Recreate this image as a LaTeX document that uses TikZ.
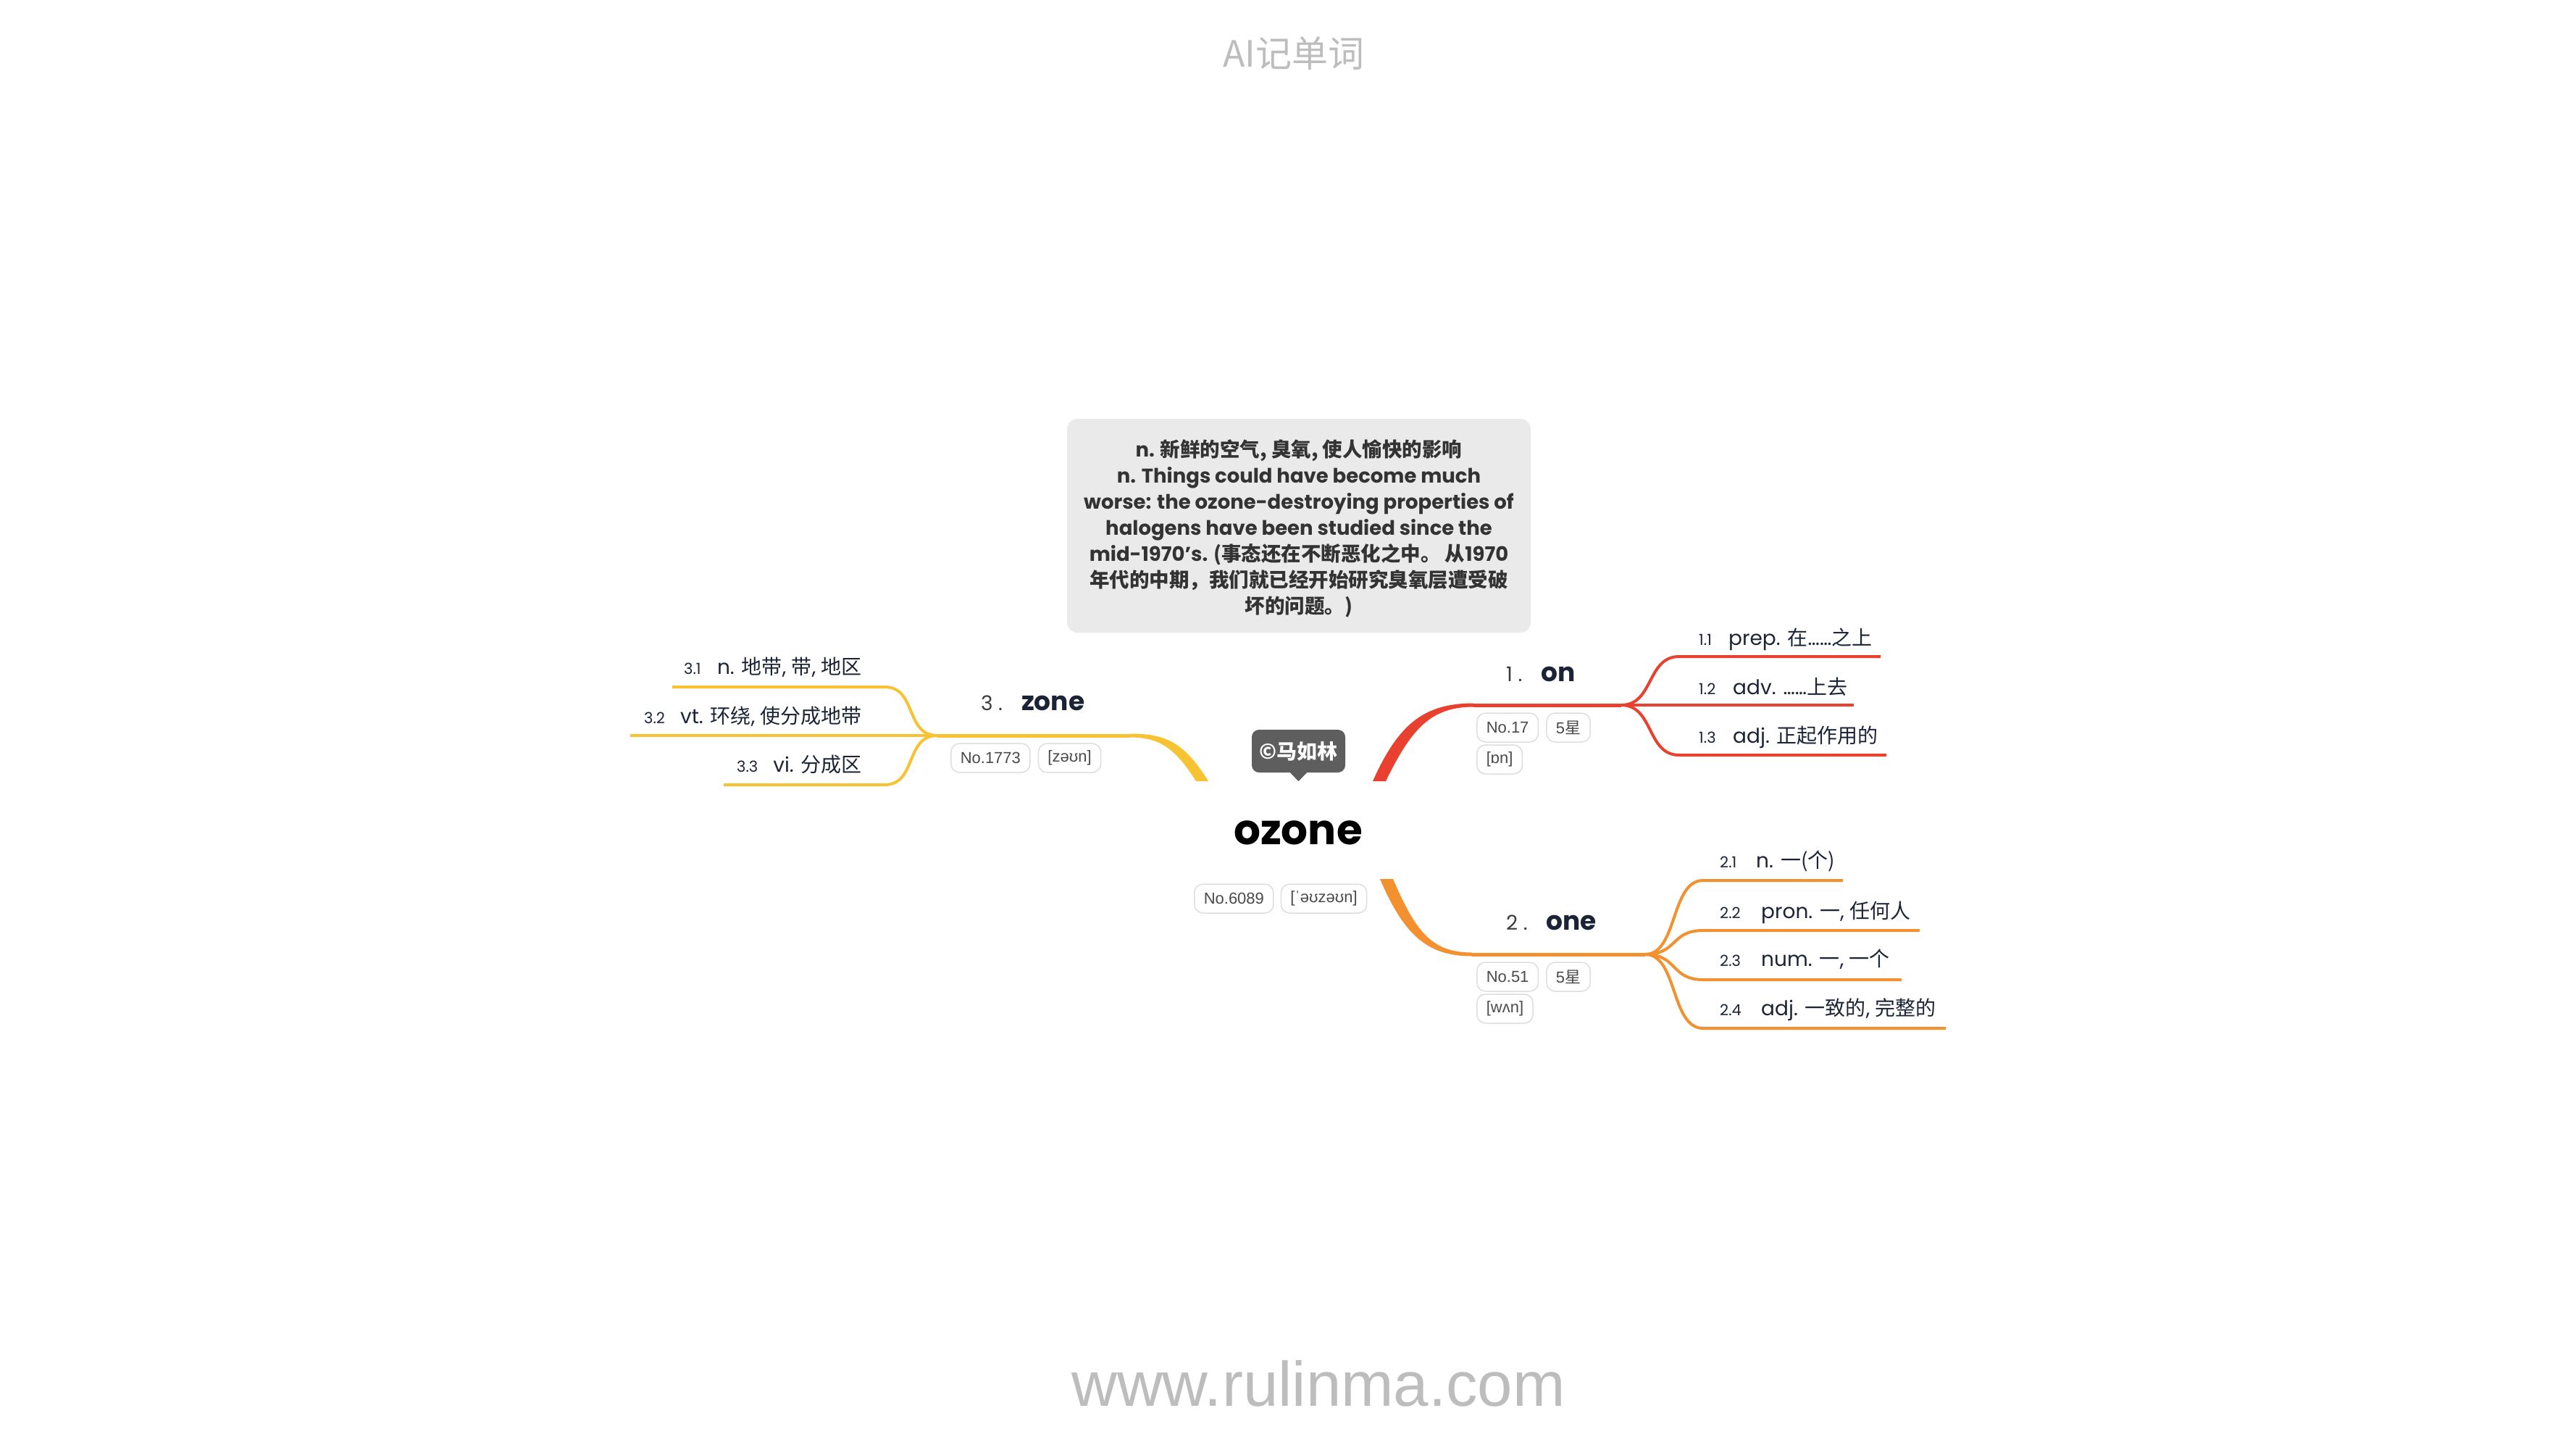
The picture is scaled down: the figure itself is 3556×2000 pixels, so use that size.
\documentclass[tikz,border=0pt]{standalone}
\usepackage{fontspec}
\usetikzlibrary{calc}
\setmainfont{Poppins}
\newfontfamily\pop{Poppins}
\newfontfamily\cjk{Noto Sans CJK SC}
\newfontfamily\arial{Liberation Sans}
\newcommand\zh[1]{{\cjk #1}}

\definecolor{redb}{HTML}{E9412F}
\definecolor{orangeb}{HTML}{F39131}
\definecolor{yellowb}{HTML}{F7C332}
\definecolor{ink}{HTML}{1B2436}
\definecolor{numgray}{HTML}{3C3C3C}
\definecolor{tagtext}{HTML}{4A4A4A}
\definecolor{tagline}{HTML}{DEDEDE}
\definecolor{defbg}{HTML}{EAEAEA}
\definecolor{deftext}{HTML}{333333}
\definecolor{tipbg}{HTML}{5E5E5E}
\definecolor{marktext}{HTML}{BDBDBD}

% numeral in front of a branch word
\newcommand\hnum[1]{{\pop\mdseries\fontsize{28}{30}\selectfont\color{numgray}#1}}

\begin{document}
\begin{tikzpicture}[x=1pt,y=-1pt,
  tag/.style={draw=tagline, line width=1.5pt, fill=white, rounded corners=12pt,
    minimum height=40pt, inner xsep=13pt, inner ysep=0pt, text=tagtext,
    font=\arial\fontsize{22}{22}\selectfont, anchor=west},
  sublabel/.style={font=\pop\fontsize{28}{30}\selectfont, text=ink, inner sep=0pt},
  subnum/.style={font=\pop\fontsize{21}{24}\selectfont, text=ink, inner sep=0pt, anchor=base west},
  heading/.style={font=\pop\bfseries\fontsize{36}{40}\selectfont, text=ink, inner sep=0pt, anchor=base west},
  subline/.style={line width=4pt},
  mainline/.style={line width=5pt},
  defbox/.style={fill=defbg, rounded corners=14pt, minimum width=640pt, minimum height=295pt,
    align=center, text=deftext, font=\pop\bfseries\fontsize{27.5}{36}\selectfont, inner sep=0pt},
  tipbox/.style={fill=tipbg, rounded corners=10pt, minimum width=129pt, minimum height=59pt,
    inner sep=0pt, text=white, font=\cjk\bfseries\fontsize{28}{28}\selectfont},
  watermark/.style={text=marktext, inner sep=0pt, anchor=base}
]
\fill[white] (0,0) rectangle (3556,2000);
\useasboundingbox (0,0) rectangle (3556,2000);

% header and footer
\node[watermark, font=\cjk\fontsize{50}{50}\selectfont] (title) at (1786,92) {AI记单词};
\node[watermark, font=\arial\fontsize{87}{87}\selectfont] (site) at (1820,1940) {www.rulinma.com};

% definition card
\node[defbox] (def) at (1793,725.5) {};
\node[align=center, text=deftext, font=\pop\bfseries\fontsize{27.5}{36}\selectfont, inner sep=0pt]
  (deftxt) at (1793,729) {%
  n. \zh{新鲜的空气, 臭氧, 使人愉快的影响}\\
  n. Things could have become much\\
  worse: the ozone-destroying properties of\\
  halogens have been studied since the\\
  mid-1970’s. \zh{(事态还在不断恶化之中。 从}1970\\
  \zh{年代的中期，我们就已经开始研究臭氧层遭受破}\\
  \zh{坏的问题。)}};

% central word
\node[tipbox] (sign) at (1792.5,1036.5) {©马如林};
\fill[tipbg] ($(sign.south)+(-12,-0.5)$) -- ($(sign.south)+(12,-0.5)$) -- ($(sign.south)+(0,12)$) -- cycle;
\node[font=\pop\bfseries\fontsize{58}{60}\selectfont, text=black, inner sep=0pt, anchor=base] (root) at (1792,1165) {ozone};
\node[tag] (rootno) at (1648,1240) {No.6089};
\node[tag] (rootipa) at ($(rootno.east)+(9,0)$) {[ˈəʊzəʊn]};

% ---------- branch 1: on ----------
\coordinate (r0) at (2034,973);
\coordinate (rf) at (2238,973);
\fill[redb] (1895,1078) .. controls (1930,1000) and (1965,970.5) .. (2034,970.5)
  -- (2034,975.5) .. controls (1975,975.5) and (1948,1006) .. (1913,1078) -- cycle;
\draw[redb, mainline] (r0) -- (rf);
\coordinate (r1s) at (2318,906);  \coordinate (r1e) at (2596,906);
\coordinate (r2e) at (2559,973);
\coordinate (r3s) at (2318,1042); \coordinate (r3e) at (2604,1042);
\draw[redb, subline] (rf) .. controls +(45,0) and +(-45,0) .. (r1s) -- (r1e);
\draw[redb, subline] (rf) -- (r2e);
\draw[redb, subline] (rf) .. controls +(45,0) and +(-45,0) .. (r3s) -- (r3e);

\node[heading] (h1) at (2079,940) {\hnum{1 .}\hspace{26pt}on};
\node[tag] (t1a) at (2038,1004) {No.17};
\node[tag] (t1b) at ($(t1a.east)+(10,0)$) {5\zh{星}};
\node[tag] (t1c) at (2038,1048) {[ɒn]};

\node[subnum] (n11) at (2345,890) {1.1};
\node[sublabel, anchor=base west] (s11) at (2386,890) {prep. \zh{在}……\zh{之上}};
\node[subnum] (n12) at (2345,958) {1.2};
\node[sublabel, anchor=base west] (s12) at (2392,958) {adv. ……\zh{上去}};
\node[subnum] (n13) at (2345,1025) {1.3};
\node[sublabel, anchor=base west] (s13) at (2392,1025) {adj. \zh{正起作用的}};

% ---------- branch 2: one ----------
\coordinate (o0) at (2032,1317);
\coordinate (of) at (2271,1317);
\fill[orangeb] (1905,1213) .. controls (1938,1290) and (1970,1319.5) .. (2032,1319.5)
  -- (2032,1314.5) .. controls (1978,1314.5) and (1955,1288) .. (1923,1213) -- cycle;
\draw[orangeb, mainline] (o0) -- (of);
\coordinate (o1s) at (2351,1215); \coordinate (o1e) at (2544,1215);
\coordinate (o2s) at (2351,1284); \coordinate (o2e) at (2650,1284);
\coordinate (o3s) at (2351,1352); \coordinate (o3e) at (2625,1352);
\coordinate (o4s) at (2351,1419); \coordinate (o4e) at (2686,1419);
\foreach \k in {1,2,3,4}
  \draw[orangeb, subline] (of) .. controls +(45,0) and +(-45,0) .. (o\k s) -- (o\k e);

\node[heading] (h2) at (2079,1283) {\hnum{2 .}\hspace{26pt}one};
\node[tag] (t2a) at (2038,1348) {No.51};
\node[tag] (t2b) at ($(t2a.east)+(10,0)$) {5\zh{星}};
\node[tag] (t2c) at (2038,1392) {[wʌn]};

\node[subnum] (n21) at (2374,1197) {2.1};
\node[sublabel, anchor=base west] (s21) at (2424,1197) {n. \zh{一(个)}};
\node[subnum] (n22) at (2374,1267) {2.2};
\node[sublabel, anchor=base west] (s22) at (2431,1267) {pron. \zh{一}, \zh{任何人}};
\node[subnum] (n23) at (2374,1333) {2.3};
\node[sublabel, anchor=base west] (s23) at (2431,1333) {num. \zh{一}, \zh{一个}};
\node[subnum] (n24) at (2374,1401) {2.4};
\node[sublabel, anchor=base west] (s24) at (2431,1401) {adj. \zh{一致的}, \zh{完整的}};

% ---------- branch 3: zone ----------
\coordinate (y0) at (1560,1015);
\coordinate (yf) at (1294,1015);
\fill[yellowb] (1668,1078) .. controls (1635,1025) and (1610,1012.5) .. (1560,1012.5)
  -- (1560,1017.5) .. controls (1600,1017.5) and (1622,1032) .. (1651,1078) -- cycle;
\draw[yellowb, mainline] (y0) -- (yf);
\coordinate (y1s) at (1221,948);  \coordinate (y1e) at (928,948);
\coordinate (y2e) at (870,1015);
\coordinate (y3s) at (1221,1083); \coordinate (y3e) at (999,1083);
\draw[yellowb, subline] (yf) .. controls +(-45,0) and +(45,0) .. (y1s) -- (y1e);
\draw[yellowb, subline] (yf) -- (y2e);
\draw[yellowb, subline] (yf) .. controls +(-45,0) and +(45,0) .. (y3s) -- (y3e);

\node[heading] (h3) at (1354,980) {\hnum{3 .}\hspace{26pt}zone};
\node[tag] (t3a) at (1312,1046) {No.1773};
\node[tag] (t3b) at ($(t3a.east)+(10,0)$) {[zəʊn]};

\node[subnum] (n31) at (944,930) {3.1};
\node[sublabel, anchor=base east] (s31) at (1190,930) {n. \zh{地带}, \zh{带}, \zh{地区}};
\node[subnum] (n32) at (889,998) {3.2};
\node[sublabel, anchor=base east] (s32) at (1190,998) {vt. \zh{环绕}, \zh{使分成地带}};
\node[subnum] (n33) at (1017,1065) {3.3};
\node[sublabel, anchor=base east] (s33) at (1190,1065) {vi. \zh{分成区}};
\end{tikzpicture}
\end{document}
